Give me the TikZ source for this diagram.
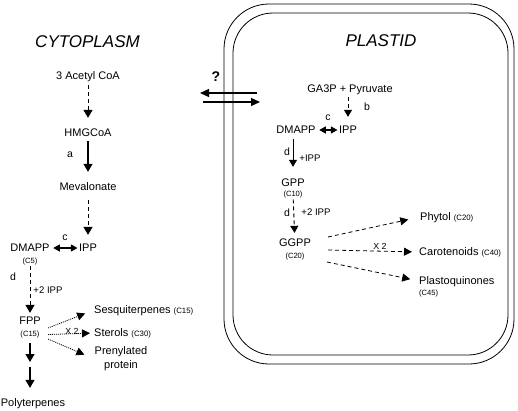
\documentclass[tikz,border=0pt]{standalone}
\usepackage{fontspec}
\setmainfont{Liberation Sans}
\usetikzlibrary{arrows.meta}
\begin{document}
\begin{tikzpicture}[x=1pt,y=-1pt,
  lbl/.style={inner sep=0pt, text height=7.9pt, text depth=0pt, font=\fontsize{11}{13}\selectfont},
  sml/.style={inner sep=0pt, text height=5.4pt, text depth=0pt, font=\fontsize{7.6}{9}\selectfont},
  lett/.style={inner sep=0pt, font=\fontsize{10.5}{12}\selectfont},
  plus/.style={inner sep=0pt, font=\fontsize{9.6}{11}\selectfont},
  ttl/.style={inner sep=0pt, font=\fontsize{17}{20}\selectfont\itshape},
  bigtip/.style={-{Triangle[length=8pt,width=9pt]}},
  ar/.style={line width=1.1pt, bigtip},
  dsh/.style={ar, line width=1pt, dash pattern=on 4pt off 3pt},
  dbl/.style={line width=1.1pt, {Triangle[length=6.5pt,width=7pt]}-{Triangle[length=6.5pt,width=7pt]}},
  dotar/.style={line width=0.8pt, dash pattern=on 1pt off 1pt, -{Triangle[length=8pt,width=8pt]}},
  brar/.style={line width=0.8pt, dash pattern=on 4pt off 3pt, -{Triangle[length=8pt,width=8pt]}},
  exar/.style={line width=1.2pt, -{Triangle[length=9pt,width=8pt]}},
  memb/.style={line width=0.8pt}
]
\useasboundingbox (0,0) rectangle (518,410);
\fill[white] (0,0) rectangle (518,410);

% plastid membranes
\draw[memb, rounded corners=45pt] (224,4) rectangle (514,364);
\draw[memb, rounded corners=40pt] (233,13) rectangle (508,355);

% titles
\node[ttl] (tcyto) at (87.5,42) {CYTOPLASM};
\node[ttl] (tplas) at (381,41) {PLASTID};

% ---------- cytoplasm ----------
\node[lbl] (acoa) at (88,76) {3 Acetyl CoA};
\node[lbl] (hmg) at (88,133) {HMGCoA};
\node[lbl] (mev) at (88,187) {Mevalonate};
\node[lbl] (cdm) at (30,248) {DMAPP};
\node[lbl] (cipp) at (88,248) {IPP};
\node[sml] (cc5) at (30,261) {(C5)};
\node[lbl] (fpp) at (30,321) {FPP};
\node[sml] (cc15) at (30,334) {(C15)};
\coordinate (cmid) at (30,365);
\node[lbl] (poly) at (33,403) {Polyterpenes};
\node[lbl, anchor=west] (sesq) at (94,310) {Sesquiterpenes {\fontsize{7.8}{9}\selectfont(C15)}};
\node[lbl, anchor=west] (ster) at (94,333) {Sterols {\fontsize{7.8}{9}\selectfont(C30)}};
\node[inner sep=0pt, align=center, font=\fontsize{11}{14}\selectfont] (pren) at (121,359) {Prenylated\\protein};

\node[lett] (la) at (70,155) {a};
\node[lett] (lc1) at (65,238) {c};
\node[lett] (ld1) at (13,277) {d};
\node[plus] (p2a) at (48,290) {+2 IPP};

\draw[dsh, shorten <=5pt, shorten >=11pt] (acoa) -- (hmg);
\draw[ar, shorten <=4pt, shorten >=11pt] (hmg) -- (mev);
\draw[dsh, shorten <=9pt, shorten >=9pt] (mev) -- (cipp);
\draw[dbl, shorten <=3.5pt, shorten >=1.5pt] (cdm) -- (cipp);
\draw[dsh, shorten <=2.5pt, shorten >=4pt] (cc5.south -| cdm) -- (fpp);
\draw[ar, shorten <=6.5pt, shorten >=3pt] (cc15) -- (cmid);
\draw[ar, shorten <=2pt, shorten >=11pt] (cmid) -- (poly.north -| cmid);

\coordinate (fo1) at (48,328);
\coordinate (fo2) at (48,334.5);
\coordinate (fo3) at (48,339);
\draw[dotar, shorten >=9.5pt] (fo1) -- (sesq.west);
\draw[dotar, shorten >=4pt] (fo2) -- (ster.west);
\draw[dotar, shorten >=11pt] (fo3) -- (pren.west);
\node[plus, font=\fontsize{8.8}{10}\selectfont] (x2c) at (72,331) {X 2};

% exchange arrows
\node[inner sep=0pt, font=\fontsize{14}{16}\selectfont\bfseries] (q) at (216,77) {?};
\coordinate (e1s) at (257,93);
\coordinate (e1e) at (200,93);
\coordinate (e2s) at (203,102);
\coordinate (e2e) at (260,102);
\draw[exar] (e1s) -- (e1e);
\draw[exar] (e2s) -- (e2e);

% ---------- plastid ----------
\node[lbl] (ga3p) at (350,89) {GA3P + Pyruvate};
\node[lbl] (pdm) at (296,130) {DMAPP};
\node[lbl] (pipp) at (348,130) {IPP};
\node[lbl] (gpp) at (293,183) {GPP};
\node[sml] (c10) at (293,194) {(C10)};
\node[lbl] (ggpp) at (295,243) {GGPP};
\node[sml] (c20) at (295,256) {(C20)};
\node[lbl, anchor=west] (phyt) at (420,217) {Phytol {\fontsize{7.8}{9}\selectfont(C20)}};
\node[lbl, anchor=west] (caro) at (419,252) {Carotenoids {\fontsize{7.8}{9}\selectfont(C40)}};
\node[lbl, anchor=west] (plq) at (419,281) {Plastoquinones};
\node[sml, anchor=west] (c45) at (419,293) {(C45)};

\node[lett] (lb) at (367,107) {b};
\node[lett] (lc2) at (328,118) {c};
\node[lett] (ld2) at (287,152) {d};
\node[plus] (pi) at (310,158) {+IPP};
\node[lett] (ld3) at (287,213) {d};
\node[plus] (p2b) at (316,212) {+2 IPP};

\draw[dsh, line width=0.9pt, shorten <=4pt, shorten >=9pt, -{Triangle[length=7pt,width=8pt]}] (ga3p.south -| pipp) -- (pipp);
\draw[dbl, shorten <=3.5pt, shorten >=1.5pt] (pdm) -- (pipp);
\draw[ar, line width=0.9pt, shorten <=5pt, shorten >=12pt, -{Triangle[length=7pt,width=8pt]}] (pdm.south -| gpp) -- (gpp);
\draw[dsh, line width=0.9pt, shorten <=2.5pt, shorten >=6pt, -{Triangle[length=7pt,width=8pt]}] (c10) -- (ggpp);

\coordinate (go1) at (328,237);
\coordinate (go2) at (328,250);
\coordinate (go3) at (327,262);
\draw[brar, shorten >=12pt] (go1) -- (phyt.west);
\draw[brar, shorten >=7pt] (go2) -- (caro.west);
\draw[brar, shorten >=9pt] (go3) -- (plq.west);
\node[plus, font=\fontsize{8.8}{10}\selectfont] (x2p) at (380,246) {X 2};
\end{tikzpicture}
\end{document}
